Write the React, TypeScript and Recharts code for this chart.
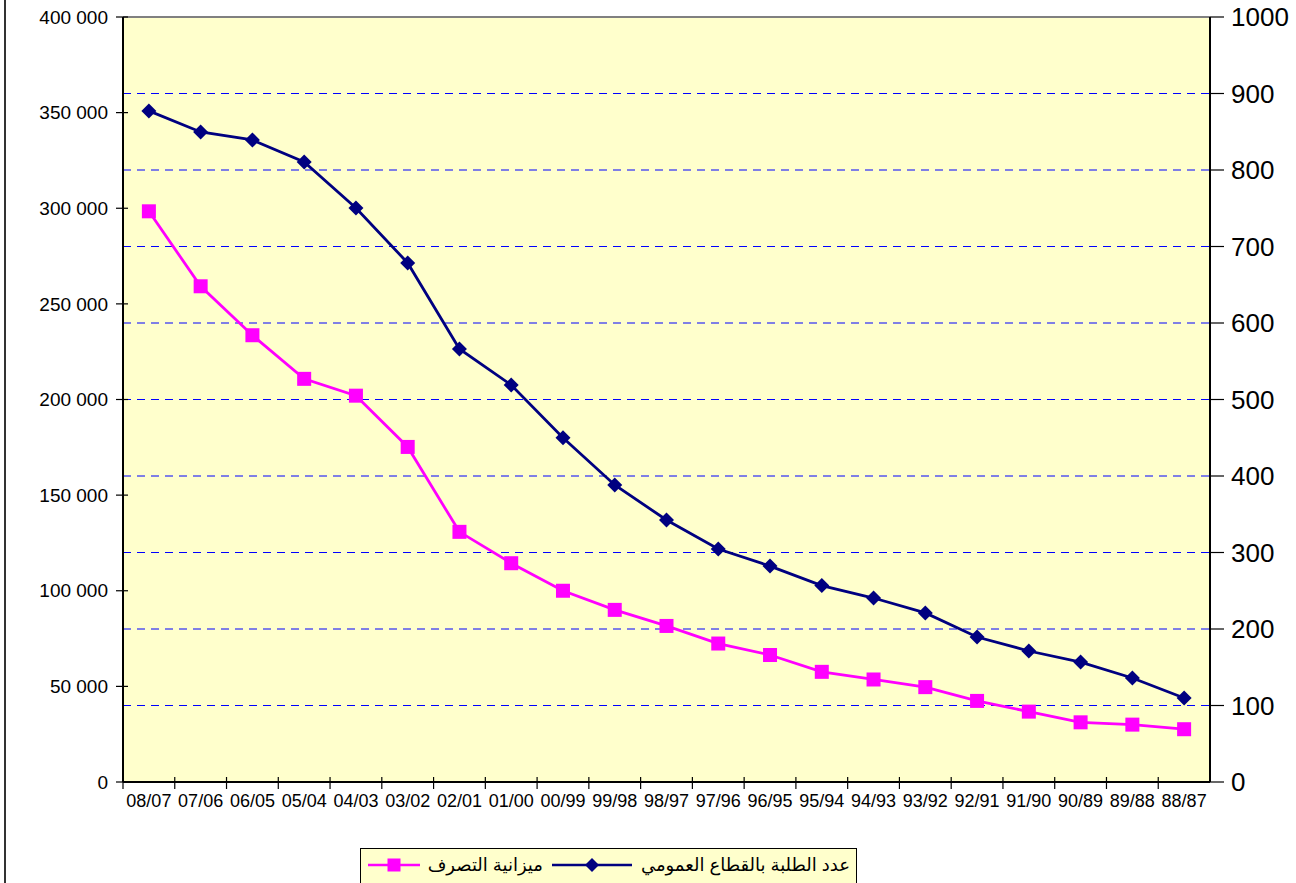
import React from "react";
import {
  LineChart,
  Line,
  XAxis,
  YAxis,
  CartesianGrid,
  ReferenceLine,
} from "recharts";

const periods = [
  "08/07", "07/06", "06/05", "05/04", "04/03", "03/02", "02/01", "01/00",
  "00/99", "99/98", "98/97", "97/96", "96/95", "95/94", "94/93", "93/92",
  "92/91", "91/90", "90/89", "89/88", "88/87",
];

// عدد الطلبة بالقطاع العمومي (left axis)
const students = [
  350900, 339900, 335700, 324200, 300100, 271400, 226400, 207600, 180000,
  155300, 137000, 121800, 112900, 102700, 96200, 88400, 75800, 68500, 62700,
  54400, 43900,
];

// ميزانية التصرف (right axis)
const budget = [
  746, 648, 584, 527, 505, 438, 327, 286, 250, 225, 204, 181, 166, 144, 134,
  124, 106, 92, 78, 75, 69,
];

const leftTicks = [0, 50000, 100000, 150000, 200000, 250000, 300000, 350000, 400000];
const rightTicks = [0, 100, 200, 300, 400, 500, 600, 700, 800, 900, 1000];

const data = periods.map((p, i) => ({
  period: p,
  students: students[i],
  budget: budget[i],
}));

const FONT = "Arial, 'Liberation Sans', 'DejaVu Sans', sans-serif";
const NAVY = "#000080";
const PINK = "#FF00FF";

const PLOT_LEFT = 123;
const PLOT_RIGHT = 1210;
const BAND = (PLOT_RIGHT - PLOT_LEFT) / periods.length;

const fmtLeft = (v: number) => (v === 0 ? "0" : `${v / 1000} 000`);

const LeftTick = (props: any) => {
  const { x, y, payload } = props;
  return (
    <g>
      <line x1={x + 8} x2={x + 20} y1={y} y2={y} stroke="#000" strokeWidth={1.2} />
      <text x={x} y={y} dy="0.355em" textAnchor="end" fontSize={19} fontFamily={FONT} fill="#000">
        {fmtLeft(payload.value)}
      </text>
    </g>
  );
};

const RightTick = (props: any) => {
  const { x, y, payload } = props;
  return (
    <g>
      <line x1={x - 21} x2={x - 7} y1={y} y2={y} stroke="#000" strokeWidth={1.2} />
      <text x={x} y={y} dy="0.355em" textAnchor="start" fontSize={26} fontFamily={FONT} fill="#000">
        {payload.value}
      </text>
    </g>
  );
};

const BottomTick = (props: any) => {
  const { x, y, payload } = props;
  const lx = x - BAND / 2;
  return (
    <g>
      <line x1={lx} x2={lx} y1={y - 17} y2={y - 5} stroke="#000" strokeWidth={1.2} />
      <text x={x} y={y} dy="0.71em" textAnchor="middle" fontSize={18} fontFamily={FONT} fill="#000">
        {payload.value}
      </text>
    </g>
  );
};

const Diamond = (props: any) => {
  const { cx, cy, index } = props;
  if (cx == null || cy == null) return <g key={`d${index}`} />;
  return (
    <path
      key={`d${index}`}
      d={`M${cx},${cy - 7.5}L${cx + 7.5},${cy}L${cx},${cy + 7.5}L${cx - 7.5},${cy}Z`}
      fill={NAVY}
    />
  );
};

const Square = (props: any) => {
  const { cx, cy, index } = props;
  if (cx == null || cy == null) return <g key={`s${index}`} />;
  return <rect key={`s${index}`} x={cx - 7} y={cy - 7} width={14} height={14} fill={PINK} />;
};

const LegendMarker = ({ color, shape, width }: { color: string; shape: "diamond" | "square"; width: number }) => (
  <svg width={width} height={16} style={{ display: "block", flexShrink: 0 }}>
    <line x1={0} x2={width} y1={8} y2={8} stroke={color} strokeWidth={2.5} />
    {shape === "diamond" ? (
      <path d={`M${width / 2},1L${width / 2 + 7},8L${width / 2},15L${width / 2 - 7},8Z`} fill={color} />
    ) : (
      <rect x={width / 2 - 6.5} y={1.5} width={13} height={13} fill={color} />
    )}
  </svg>
);

export default function App() {
  return (
    <div
      style={{
        position: "absolute",
        left: 0,
        top: 0,
        width: 1296,
        height: 883,
        overflow: "hidden",
        background: "#fff",
      }}
    >
      <div style={{ position: "absolute", left: 4, top: 0, width: 2, height: 883, background: "#333" }} />
      <LineChart
        width={1296}
        height={883}
        data={data}
        margin={{ top: 17, right: 0, bottom: 61, left: 0 }}
      >
        <CartesianGrid
          yAxisId="right"
          vertical={false}
          stroke="#0000FF"
          strokeDasharray="8 6"
          fill="#FFFFCC"
          fillOpacity={1}
        />
        <XAxis
          dataKey="period"
          height={40}
          padding={{ left: BAND / 2, right: BAND / 2 }}
          axisLine={{ stroke: "#000", strokeWidth: 2 }}
          tickLine={false}
          tickSize={7}
          tickMargin={5}
          interval={0}
          tick={<BottomTick />}
        />
        <YAxis
          yAxisId="left"
          orientation="left"
          width={PLOT_LEFT}
          domain={[0, 400000]}
          ticks={leftTicks}
          axisLine={{ stroke: "#000", strokeWidth: 2 }}
          tickLine={false}
          tickSize={7}
          tickMargin={8}
          tick={<LeftTick />}
        />
        <YAxis
          yAxisId="right"
          orientation="right"
          width={1296 - PLOT_RIGHT}
          domain={[0, 1000]}
          ticks={rightTicks}
          axisLine={{ stroke: "#000", strokeWidth: 2 }}
          tickLine={false}
          tickSize={7}
          tickMargin={14}
          tick={<RightTick />}
        />
        <ReferenceLine yAxisId="left" y={400000} stroke="#808080" strokeWidth={2} />
        <Line
          yAxisId="right"
          type="linear"
          dataKey="budget"
          stroke={PINK}
          strokeWidth={2.8}
          dot={<Square />}
          activeDot={false}
          isAnimationActive={false}
        />
        <Line
          yAxisId="left"
          type="linear"
          dataKey="students"
          stroke={NAVY}
          strokeWidth={2.8}
          dot={<Diamond />}
          activeDot={false}
          isAnimationActive={false}
        />
      </LineChart>
      <div
        style={{
          position: "absolute",
          left: 360,
          top: 848,
          width: 497,
          height: 44,
          border: "1px solid #000",
          background: "#FFFFCC",
          boxSizing: "border-box",
          display: "flex",
          flexDirection: "row",
          justifyContent: "flex-start",
          alignItems: "flex-start",
          paddingTop: 5,
          paddingRight: 6,
          fontFamily: FONT,
          fontSize: 18,
          color: "#000",
          direction: "rtl",
          whiteSpace: "nowrap",
          overflow: "hidden",
        }}
      >
        <div style={{ display: "flex", alignItems: "center", gap: 9 }}>
          <span>عدد الطلبة بالقطاع العمومي</span>
          <LegendMarker color={NAVY} shape="diamond" width={80} />
        </div>
        <div style={{ display: "flex", alignItems: "center", gap: 8, marginRight: 9 }}>
          <span>ميزانية التصرف</span>
          <LegendMarker color={PINK} shape="square" width={52} />
        </div>
      </div>
    </div>
  );
}
